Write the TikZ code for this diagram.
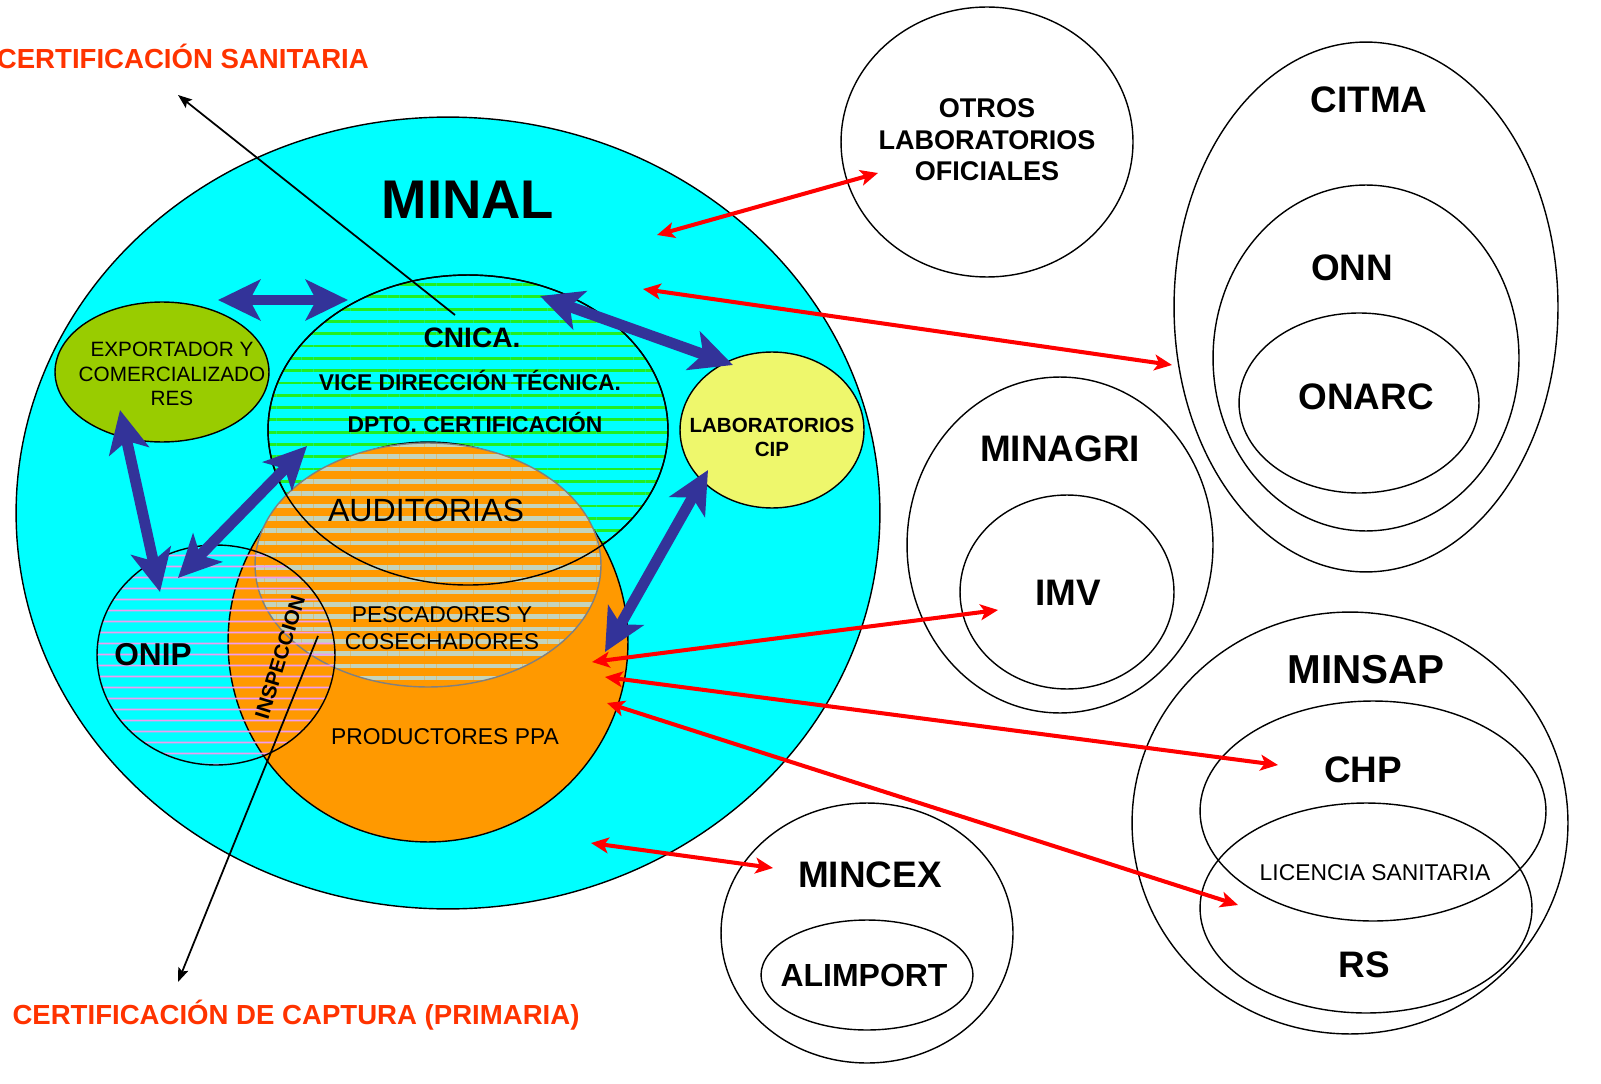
\documentclass[tikz,border=0pt]{standalone}
\usepackage{fontspec}
\setmainfont{Liberation Sans}
\usetikzlibrary{shapes.geometric,arrows.meta,patterns.meta}
\definecolor{minalcyan}{HTML}{00FFFF}
\definecolor{prodorange}{HTML}{FF9900}
\definecolor{exportolive}{HTML}{99CC00}
\definecolor{labyellow}{HTML}{EEF76C}
\definecolor{arrblue}{HTML}{333399}
\definecolor{certred}{HTML}{FF3300}
\definecolor{cnicagreen}{HTML}{22EE22}
\definecolor{pescgrey}{HTML}{C4D4BC}
\definecolor{onippink}{HTML}{F09CF0}
\begin{document}
\begin{tikzpicture}[x=0.02cm,y=-0.02cm,
    ell/.style={ellipse,draw,line width=0.8pt,inner sep=0pt},
    big/.style={font=\fontsize{21}{25}\selectfont\bfseries},
    mid/.style={font=\fontsize{13}{15.5}\selectfont\bfseries,align=center},
    thin/.style={font=\fontsize{13}{15.5}\selectfont,align=center},
    bluearr/.style={draw=arrblue,line width=6.2pt,
      arrows={Stealth[length=24pt,width=23pt,inset=6pt]-Stealth[length=24pt,width=23pt,inset=6pt]}},
    redarr/.style={draw=red,line width=2.3pt,
      arrows={Stealth[length=10pt,width=9pt,inset=2.5pt]-Stealth[length=10pt,width=9pt,inset=2.5pt]}},
    blackarr/.style={draw=black,line width=1pt,-{Stealth[length=8pt,width=6pt,inset=1.5pt]}}]
  \useasboundingbox (0,0) rectangle (1601,1084);

  % MINAL and its members
  \node[ell,fill=minalcyan,minimum width=17.28cm,minimum height=15.84cm] (minal) at (448,513) {};
  \node[ell,preaction={fill=minalcyan},pattern={Lines[angle=0,distance=7pt,line width=1.6pt]},
    pattern color=cnicagreen,minimum width=8cm,minimum height=6.2cm] (cnica) at (468,430) {};
  \node[ell,fill=prodorange,minimum width=8cm,minimum height=8cm] (prod) at (428,642) {};
  \node[ell,draw=gray,preaction={fill=prodorange},pattern={Lines[angle=0,distance=7pt,line width=2.6pt]},
    pattern color=pescgrey,minimum width=6.92cm,minimum height=4.88cm] (pesc) at (428,565) {};
  \draw[line width=0.8pt] (cnica.center) ellipse [x radius=200,y radius=155];
  \node[ell,pattern={Lines[angle=0,distance=6.5pt,line width=1.1pt]},pattern color=onippink,
    minimum width=4.76cm,minimum height=4.4cm] (onip) at (216,655) {};
  \node[ell,fill=exportolive,minimum width=4.28cm,minimum height=2.8cm] (export) at (162,372) {};
  \node[ell,fill=labyellow,minimum width=3.68cm,minimum height=3.12cm] (lab) at (772,430) {};

  % other bodies
  \node[ell,minimum width=5.84cm,minimum height=5.4cm] (otros) at (987,142) {};
  \node[ell,minimum width=7.68cm,minimum height=10.6cm] (citma) at (1366,307) {};
  \node[ell,minimum width=6.12cm,minimum height=6.92cm] (onn) at (1366,358) {};
  \node[ell,minimum width=4.8cm,minimum height=3.6cm] (onarc) at (1359,403) {};
  \node[ell,minimum width=6.12cm,minimum height=6.72cm] (minagri) at (1060,545) {};
  \node[ell,minimum width=4.28cm,minimum height=3.88cm] (imv) at (1067,592) {};
  \node[ell,minimum width=8.72cm,minimum height=8.44cm] (minsap) at (1350,823) {};
  \node[ell,minimum width=6.92cm,minimum height=4.4cm] (chp) at (1373,811) {};
  \node[ell,minimum width=6.64cm,minimum height=4.2cm] (rs) at (1366,908) {};
  \node[ell,minimum width=5.84cm,minimum height=5.2cm] (mincex) at (867,933) {};
  \node[ell,minimum width=4.24cm,minimum height=2.2cm] (alimport) at (867,975) {};

  % labels
  \node[font=\fontsize{31}{36}\selectfont\bfseries] (minal-t) at (468,200) {MINAL};
  \node[font=\fontsize{11.8}{13.9}\selectfont,align=center] (export-t) at (172,374) {EXPORTADOR Y\\COMERCIALIZADO\\RES};
  \node[font=\fontsize{16}{19}\selectfont\bfseries] (cnica-t) at (472,338) {CNICA.};
  \node[mid] (vice-t) at (470,380) {VICE DIRECCIÓN TÉCNICA.};
  \node[mid] (dpto-t) at (475,422) {DPTO. CERTIFICACIÓN};
  \node[font=\fontsize{11.7}{13.6}\selectfont\bfseries,align=center] (lab-t) at (772,437) {LABORATORIOS\\CIP};
  \node[font=\fontsize{18.3}{22}\selectfont] (audit-t) at (426,510) {AUDITORIAS};
  \node[thin] (pesc-t) at (442,628) {PESCADORES Y\\COSECHADORES};
  \node[thin] (prod-t) at (445,737) {PRODUCTORES PPA};
  \node[font=\fontsize{18}{22}\selectfont\bfseries] (onip-t) at (153,655) {ONIP};
  \node[font=\fontsize{11.7}{14}\selectfont\bfseries,rotate=73,inner sep=0pt] (insp-t) at (280,657) {INSPECCION};
  \node[font=\fontsize{15.4}{18}\selectfont\bfseries,align=center] (otros-t) at (987,140) {OTROS\\LABORATORIOS\\OFICIALES};
  \node[big] (citma-t) at (1369,100) {CITMA};
  \node[big] (onn-t) at (1352,268) {ONN};
  \node[big] (onarc-t) at (1366,397) {ONARC};
  \node[big] (minagri-t) at (1060,449) {MINAGRI};
  \node[big] (imv-t) at (1068,593) {IMV};
  \node[font=\fontsize{23}{27}\selectfont\bfseries] (minsap-t) at (1366,670) {MINSAP};
  \node[big] (chp-t) at (1363,770) {CHP};
  \node[thin] (lic-t) at (1375,873) {LICENCIA SANITARIA};
  \node[big] (rs-t) at (1364,965) {RS};
  \node[big] (mincex-t) at (870,875) {MINCEX};
  \node[font=\fontsize{18.2}{22}\selectfont\bfseries] (alimport-t) at (864,975) {ALIMPORT};
  \node[font=\fontsize{15.7}{19}\selectfont\bfseries,text=certred,anchor=east] (sanit-t) at (375,56) {CERTIFICACIÓN SANITARIA};
  \node[font=\fontsize{15.7}{19}\selectfont\bfseries,text=certred] (captura-t) at (296,1015) {CERTIFICACIÓN DE CAPTURA (PRIMARIA)};

  % arrow ends
  \coordinate (ex-cn) at (218,300);   \coordinate (cn-ex) at (348,300);
  \coordinate (ex-on) at (120,410);   \coordinate (on-ex) at (160,592);
  \coordinate (on-cn) at (178,578);   \coordinate (cn-on) at (307,446);
  \coordinate (cn-lab) at (540,296);  \coordinate (lab-cn) at (733,365);
  \coordinate (pr-lab) at (605,652);  \coordinate (lab-pr) at (708,470);
  \coordinate (mi-ot) at (657,235);   \coordinate (ot-mi) at (878,173);
  \coordinate (mi-ci) at (643,289);   \coordinate (ci-mi) at (1172,365);
  \coordinate (pr-imv) at (592,662);  \coordinate (imv-pr) at (998,610);
  \coordinate (pr-chp) at (605,677);  \coordinate (chp-pr) at (1278,765);
  \coordinate (pr-rs) at (607,703);   \coordinate (rs-pr) at (1238,905);
  \coordinate (mi-mx) at (591,843);   \coordinate (mx-mi) at (773,868);
  \coordinate (cn-sanit) at (455,315); \coordinate (sanit-end) at (178,95);
  \coordinate (pr-capt) at (318,636);  \coordinate (capt-end) at (178,982);

  \draw[blackarr] (cn-sanit) -- (sanit-end);
  \draw[blackarr] (pr-capt) -- (capt-end);

  \draw[bluearr] (ex-cn) -- (cn-ex);
  \draw[bluearr] (ex-on) -- (on-ex);
  \draw[bluearr] (on-cn) -- (cn-on);
  \draw[bluearr] (cn-lab) -- (lab-cn);
  \draw[bluearr] (pr-lab) -- (lab-pr);

  \draw[redarr] (mi-ot) -- (ot-mi);
  \draw[redarr] (mi-ci) -- (ci-mi);
  \draw[redarr] (pr-imv) -- (imv-pr);
  \draw[redarr] (pr-chp) -- (chp-pr);
  \draw[redarr] (pr-rs) -- (rs-pr);
  \draw[redarr] (mi-mx) -- (mx-mi);
\end{tikzpicture}
\end{document}
